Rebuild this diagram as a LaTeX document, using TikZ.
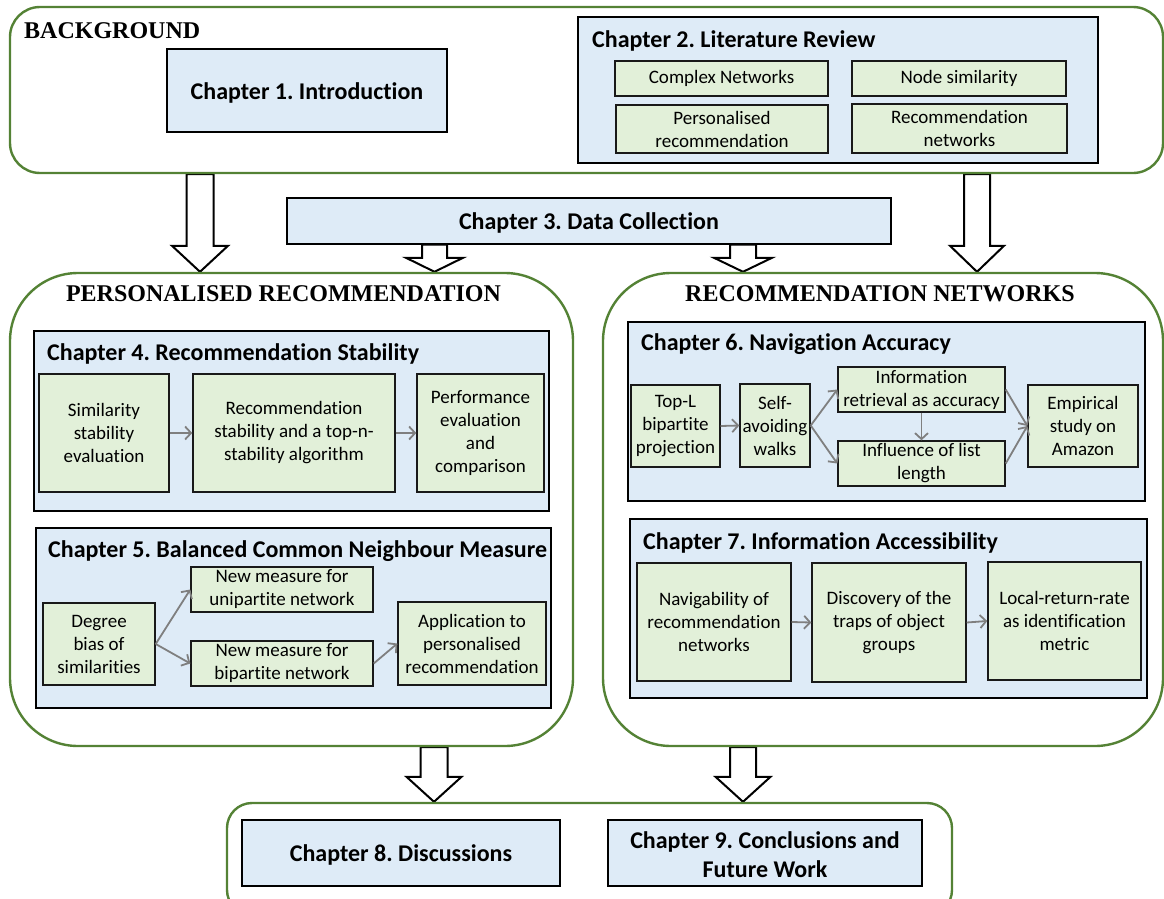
\documentclass[tikz,border=0pt]{standalone}
\usepackage{fontspec}
\setmainfont{Carlito}[Ligatures=NoCommon]
\newfontfamily\headserif{Liberation Serif}
\usetikzlibrary{arrows.meta,calc,backgrounds}
\frenchspacing

\definecolor{panelgreen}{HTML}{548235}
\definecolor{chapblue}{HTML}{DEEBF7}
\definecolor{itemgreen}{HTML}{E2F0D9}
\definecolor{flowgray}{HTML}{7F7F7F}

% a box given by its corners: style, name, x1, y1, x2, y2, text
\newcommand\boxnode[7]{%
  \node[#1, minimum width={(#5-#3)*1pt}, minimum height={(#6-#4)*1pt}]
    (#2) at ({(#3+#5)/2},{(#4+#6)/2}) {#7};}

% hollow block arrow from the bottom of one node to the top of another:
% x, source, target, shaft half width, head half width, head length
\newcommand\hollowarrow[6]{%
  \draw[bigarrow] let \p1=(#2.south), \p2=(#3.north) in
    ({(#1-#4)*1pt},\y1) -- ({(#1+#4)*1pt},\y1) -- ({(#1+#4)*1pt},{\y2+#6pt})
    -- ({(#1+#5)*1pt},{\y2+#6pt}) -- ({#1*1pt},\y2) -- ({(#1-#5)*1pt},{\y2+#6pt})
    -- ({(#1-#4)*1pt},{\y2+#6pt}) -- cycle;}

% extra room above a chapter label, so it sits a little lower in its box
\newcommand\lowered[1]{\raisebox{0pt}[\dimexpr\height+4pt\relax]{#1}}

\tikzset{
  panel/.style={draw=panelgreen, line width=2.4pt, inner sep=0pt},
  chap/.style={draw=black, fill=chapblue, line width=1.4pt, inner sep=0pt,
    align=center, font=\fontsize{24}{29}\selectfont\bfseries},
  item/.style={draw=black!90, fill=itemgreen, line width=1.4pt, inner sep=0pt,
    align=center, font=\fontsize{19}{23}\selectfont},
  chaptitle/.style={anchor=west, inner sep=0pt,
    font=\fontsize{24}{29}\selectfont\bfseries},
  paneltitle/.style={inner sep=0pt, font=\headserif\fontsize{24}{29}\selectfont\bfseries},
  flow/.style={draw=flowgray, line width=1.8pt,
    -{Straight Barb[length=6pt,width=13pt]}},
  bigarrow/.style={draw=black, fill=white, line width=2pt, line join=miter},
}

\begin{document}
\begin{tikzpicture}[x=1pt,y=-1pt]
\useasboundingbox (0,0) rectangle (1164,899);

% ---------- Background ----------
\boxnode{panel, rounded corners=30pt}{bg}{10}{7}{1163}{173}{}
\node[paneltitle, anchor=west] (bgt) at (24,31) {BACKGROUND};
\boxnode{chap}{ch1}{167}{49}{447}{132}{\lowered{Chapter 1. Introduction}}

\boxnode{chap}{ch2}{578}{17}{1098}{163}{}
\node[chaptitle] (ch2t) at (592,40.5) {Chapter 2. Literature Review};
\boxnode{item}{cn}{615}{61}{828}{96}{Complex Networks}
\boxnode{item}{ns}{852}{61}{1066}{96}{Node similarity}
\boxnode{item}{pr}{616}{105}{828}{153}{Personalised\\recommendation}
\boxnode{item}{rn}{852}{104}{1067}{153}{Recommendation\\networks}

% ---------- Data collection ----------
\boxnode{chap}{ch3}{287}{198}{891}{244}{\lowered{Chapter 3. Data Collection}}

% ---------- Personalised recommendation ----------
\boxnode{panel, rounded corners=68pt}{pers}{10}{273}{573}{746}{}
\node[paneltitle] (perst) at (283.5,293.5) {PERSONALISED RECOMMENDATION};

\boxnode{chap}{ch4}{34}{331}{549}{511}{}
\node[chaptitle] (ch4t) at (47,353.5) {Chapter 4. Recommendation Stability};
\boxnode{item}{sim}{39}{374}{169}{492}{Similarity\\stability\\evaluation}
\boxnode{item}{recst}{193}{374}{395}{492}{Recommendation\\stability and a top-n-\\stability algorithm}
\boxnode{item}{perf}{417}{374}{544}{492}{Performance\\evaluation\\and\\comparison}
\draw[flow] (sim.east) -- (recst.west);
\draw[flow] (recst.east) -- (perf.west);

\boxnode{chap}{ch5}{36}{528}{551}{708}{}
\node[chaptitle] (ch5t) at (48,551.5) {Chapter 5. Balanced Common Neighbour Measure};
\boxnode{item}{deg}{43}{603}{155}{685}{Degree\\bias of\\similarities}
\boxnode{item}{uni}{191}{567}{373}{612}{New measure for\\unipartite network}
\boxnode{item}{bip}{191}{641}{373}{686}{New measure for\\bipartite network}
\boxnode{item}{app}{398}{602}{546}{685}{Application to\\personalised\\recommendation}
\draw[flow] (deg.east) -- (uni.west);
\draw[flow] (deg.east) -- (bip.west);
\draw[flow] (bip.east) -- (app.west);

% ---------- Recommendation networks ----------
\boxnode{panel, rounded corners=68pt}{rnet}{603}{273}{1163}{746}{}
\node[paneltitle] (rnett) at (880,293.5) {RECOMMENDATION NETWORKS};

\boxnode{chap}{ch6}{628}{322}{1145}{501}{}
\node[chaptitle] (ch6t) at (641,344.5) {Chapter 6. Navigation Accuracy};
\boxnode{item}{topl}{631}{385}{720}{467}{Top-L\\bipartite\\projection}
\boxnode{item}{saw}{740}{384}{810}{467}{Self-\\avoiding\\walks}
\boxnode{item}{info}{838}{367}{1005}{412}{Information\\retrieval as accuracy}
\boxnode{item}{infl}{838}{441}{1005}{486}{Influence of list\\length}
\boxnode{item}{emp}{1028}{385}{1138}{467}{Empirical\\study on\\Amazon}
\draw[flow] (topl.east) -- (saw.west);
\draw[flow] (saw.east) -- (info.west);
\draw[flow] (saw.east) -- (infl.west);
\draw[flow] (info.south) -- (infl.north);
\draw[flow] (info.east) -- (emp.west);
\draw[flow] (infl.east) -- (emp.west);

\boxnode{chap}{ch7}{630}{519}{1147}{698}{}
\node[chaptitle] (ch7t) at (643,542.5) {Chapter 7. Information Accessibility};
\boxnode{item}{nav}{637}{563}{791}{681}{Navigability of\\recommendation\\networks}
\boxnode{item}{disc}{812}{563}{966}{682}{Discovery of the\\traps of object\\groups}
\boxnode{item}{lrr}{988}{562}{1141}{680}{Local-return-rate\\as identification\\metric}
\draw[flow] (nav.east) -- (disc.west);
\draw[flow] (disc.east) -- (lrr.west);

% ---------- Discussion and conclusions ----------
\boxnode{panel, rounded corners=25pt}{fin}{227}{803}{952}{915}{}
\boxnode{chap}{ch8}{242}{820}{560}{886}{\lowered{Chapter 8. Discussions}}
\boxnode{chap}{ch9}{608}{820}{922}{886}{\lowered{Chapter 9. Conclusions and}\\Future Work}

% ---------- Hollow arrows between the parts ----------
\begin{scope}[on background layer]
\hollowarrow{200}{bg}{pers}{13.5}{28}{26}
\hollowarrow{977}{bg}{rnet}{13}{27}{26}
\hollowarrow{434.5}{ch3}{pers}{12.5}{28.5}{14}
\hollowarrow{743}{ch3}{rnet}{13}{29}{14}
\hollowarrow{434}{pers}{fin}{13.5}{27.5}{25}
\hollowarrow{743}{rnet}{fin}{13}{27.5}{25}
\end{scope}
\end{tikzpicture}
\end{document}
